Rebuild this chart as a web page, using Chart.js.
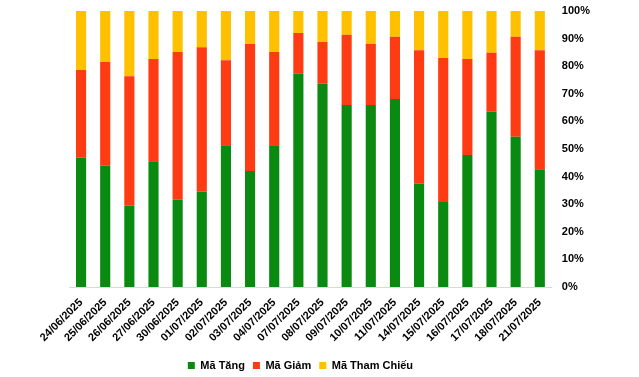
<!DOCTYPE html>
<html lang="vi">
<head>
  <meta charset="UTF-8" />
  <title>Mã Tăng / Giảm / Tham Chiếu</title>
  <script src="https://cdn.jsdelivr.net/npm/chart.js@4.4.0"></script>
  <style>
    body { margin: 0; background: #fff; }
    #wrap { width: 639px; height: 377px; }
  </style>
</head>
<body>
  <div id="wrap"><canvas id="breadthChart" width="639" height="377"></canvas></div>

  <script>
    const days = ['24/06/2025', '25/06/2025', '26/06/2025', '27/06/2025', '30/06/2025',
      '01/07/2025', '02/07/2025', '03/07/2025', '04/07/2025', '07/07/2025',
      '08/07/2025', '09/07/2025', '10/07/2025', '11/07/2025', '14/07/2025',
      '15/07/2025', '16/07/2025', '17/07/2025', '18/07/2025', '21/07/2025'];

    // ty le (%) moi ngay
    const upPct = [46.8, 43.9, 29.4, 45.6, 31.6, 34.5, 51.4, 42.0, 51.1, 77.3,
      73.6, 65.9, 65.9, 68.1, 37.4, 30.8, 47.8, 63.5, 54.4, 42.7];
    const downPct = [31.8, 37.6, 47.0, 37.0, 53.5, 52.4, 30.8, 46.0, 34.0, 14.7,
      15.2, 25.5, 22.2, 22.6, 48.4, 52.2, 34.8, 21.4, 36.3, 43.1];
    const refPct = [21.4, 18.5, 23.6, 17.4, 14.9, 13.1, 17.8, 12.0, 14.9, 8.0,
      11.2, 8.6, 11.9, 9.3, 14.2, 17.0, 17.4, 15.1, 9.3, 14.2];

    const yTicks = [0, 10, 20, 30, 40, 50, 60, 70, 80, 90, 100];

    const barOpts = { barPercentage: 0.42, categoryPercentage: 1.0, borderWidth: 0 };
    const boldFont = size => ({ family: 'Arial, "Liberation Sans"', size: size, weight: 'bold' });

    // nudge legend a bit (left / down) like the excel picture
    const legendNudge = {
      id: 'legendNudge',
      afterLayout(chart) {
        const lg = chart.legend;
        lg.left -= 10; lg.right -= 10;
        lg.top += 4; lg.bottom += 4;
      }
    };

    const ctx = document.getElementById('breadthChart').getContext('2d');
    new Chart(ctx, {
      type: 'bar',
      data: {
        labels: days,
        datasets: [
          { label: 'Mã Tăng', data: upPct, backgroundColor: '#0b8a12', ...barOpts },
          { label: 'Mã Giảm', data: downPct, backgroundColor: '#ff3b14', ...barOpts },
          { label: 'Mã Tham Chiếu', data: refPct, backgroundColor: '#ffc000', ...barOpts }
        ]
      },
      options: {
        responsive: false,
        animation: false,
        layout: { padding: { left: 69, right: 39, top: 11, bottom: 0 } },
        plugins: {
          tooltip: { enabled: false },
          legend: {
            position: 'bottom',
            fullSize: false,
            labels: {
              color: '#000',
              boxWidth: 7,
              boxHeight: 7,
              padding: 8,
              font: boldFont(11)
            }
          }
        },
        scales: {
          x: {
            stacked: true,
            grid: { display: false, drawTicks: false },
            border: { color: '#d9d9d9', width: 1 },
            afterFit: axis => { axis.height = 61; axis.paddingTop = 0; },
            ticks: {
              color: '#000',
              minRotation: 45,
              maxRotation: 45,
              padding: 9,
              font: boldFont(11)
            }
          },
          y: {
            stacked: true,
            position: 'right',
            min: 0,
            max: 100,
            grid: { display: false, drawTicks: false },
            border: { display: false },
            afterBuildTicks: axis => { axis.ticks = yTicks.map(v => ({ value: v })); },
            afterFit: axis => { axis.paddingTop = 0; axis.paddingBottom = 0; },
            ticks: {
              color: '#000',
              padding: 10,
              callback: v => v + '%',
              font: boldFont(11)
            }
          }
        }
      },
      plugins: [legendNudge]
    });
  </script>
</body>
</html>
